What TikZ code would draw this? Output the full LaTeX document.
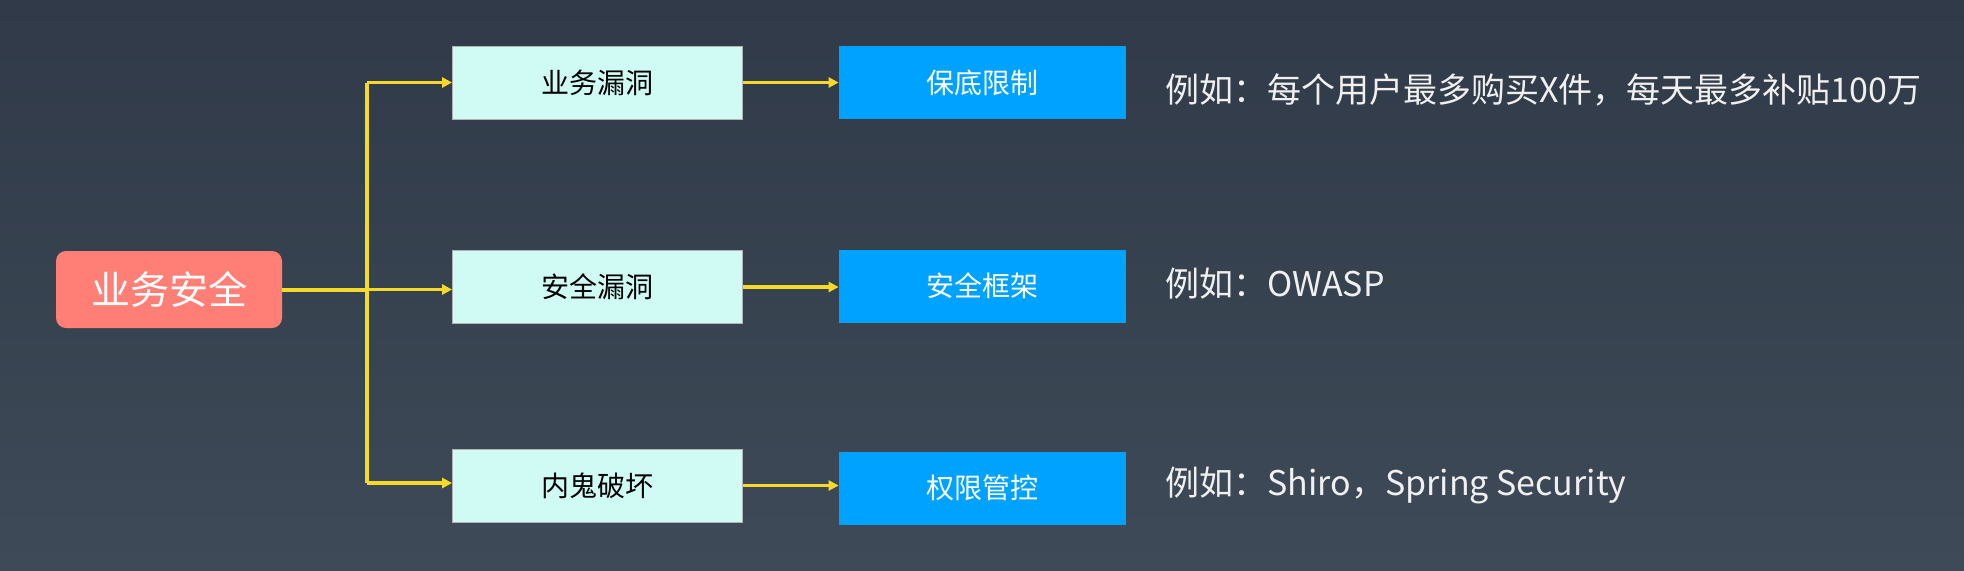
\documentclass[tikz,border=0pt]{standalone}
\usepackage{fontspec}
\setmainfont{Noto Sans CJK SC}
\usetikzlibrary{arrows.meta}
\definecolor{bgtop}{HTML}{303A48}
\definecolor{bgbot}{HTML}{3E4A57}
\definecolor{rootc}{HTML}{FF7F76}
\definecolor{lightc}{HTML}{D0FAF4}
\definecolor{bluec}{HTML}{00A2FF}
\definecolor{arrc}{HTML}{F6DA2A}
\tikzset{
  rootbox/.style={fill=rootc, rounded corners=5pt, minimum width=113pt, minimum height=38.5pt, inner sep=0pt, text=white, font=\fontsize{19.5pt}{23pt}\selectfont},
  probbox/.style={fill=lightc, draw=gray!60, line width=0.4pt, minimum width=145pt, minimum height=36.5pt, inner sep=0pt, text=black, font=\fontsize{14pt}{17pt}\selectfont},
  solbox/.style={fill=bluec, minimum width=143.5pt, minimum height=36.5pt, inner sep=0pt, text=white, font=\fontsize{14pt}{17pt}\selectfont},
  note/.style={anchor=west, inner sep=0pt, text=white!94!black, font=\fontsize{17pt}{20pt}\selectfont},
  conn/.style={draw=arrc, line width=1.6pt, -{Triangle[length=5pt,width=5pt]}},
  trunkline/.style={draw=arrc, line width=1.6pt},
}
\begin{document}
\begin{tikzpicture}[x=0.5pt,y=-0.5pt]
\shade[top color=bgtop, bottom color=bgbot] (0,0) rectangle (1964,570);
\useasboundingbox (0,0) rectangle (1964,570);

\node[rootbox] (root) at (169,289.5) {业务安全};

\node[probbox] (p1) at (597.5,82.5) {业务漏洞};
\node[probbox] (p2) at (597.5,287) {安全漏洞};
\node[probbox] (p3) at (597.5,485.5) {内鬼破坏};

\node[solbox] (s1) at (982.5,82.5) {保底限制};
\node[solbox] (s2) at (982.5,286) {安全框架};
\node[solbox] (s3) at (982.5,488) {权限管控};

\node[note] (n1) at (1165,90) {例如：每个用户最多购买X件，每天最多补贴100万};
\node[note] (n2) at (1165,284) {例如：OWASP};
\node[note] (n3) at (1165,485) {例如：Shiro，Spring Security};

\coordinate (trunk) at (367,289.5);
\coordinate (ttop) at (367,82.5);
\coordinate (tbot) at (367,483);

\draw[trunkline] (ttop) -- (tbot);
\draw[trunkline, line width=2pt] (root.east) -- (trunk);
\draw[conn] (ttop) -- (ttop -| p1.west);
\draw[conn] (trunk) -- (trunk -| p2.west);
\draw[conn] (tbot) -- (tbot -| p3.west);

\draw[conn] (p1.east) -- (p1.east -| s1.west);
\draw[conn] (p2.east) -- (p2.east -| s2.west);
\draw[conn] (p3.east) -- (p3.east -| s3.west);
\end{tikzpicture}
\end{document}
